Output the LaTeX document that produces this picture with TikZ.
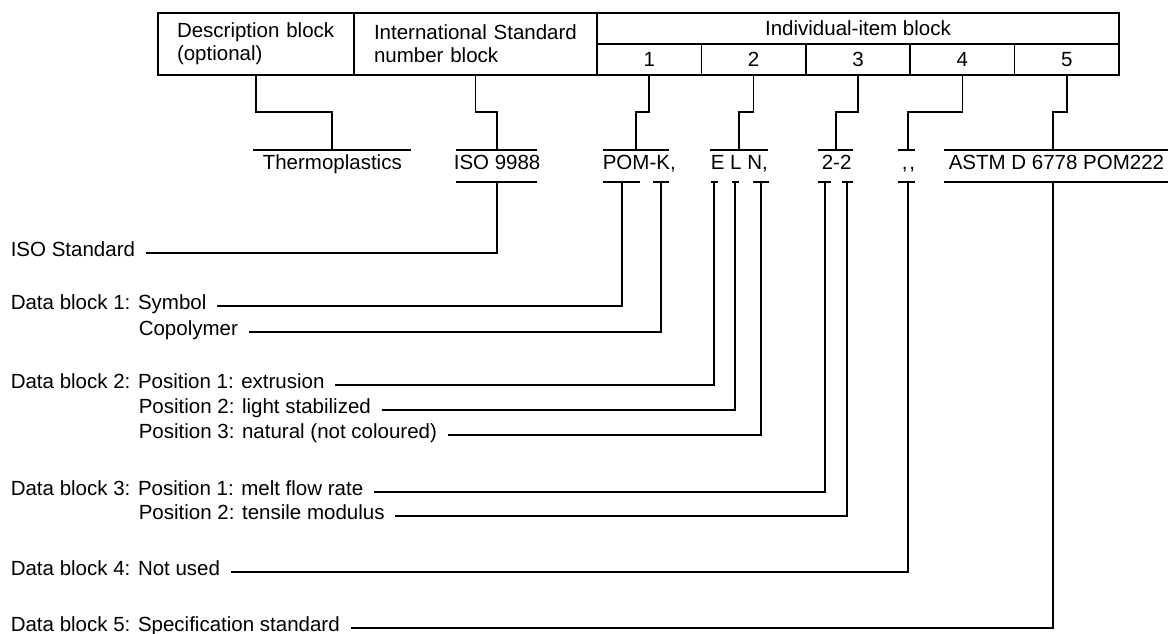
\documentclass[tikz,border=0pt]{standalone}
\usepackage{fontspec}
\setmainfont{Liberation Sans}
\usepackage{tikz}
\usetikzlibrary{calc,positioning}
\tikzset{
cell/.style={draw, outer sep=0pt, inner sep=0pt, minimum height=31pt}, % boxes of the designation
code/.style={inner sep=0pt, text height=0.72em, text depth=0pt, anchor=west}, % parts of the designation
lbl/.style={code}, % explanations on the left
}

\begin{document}
\begin{tikzpicture}[x=1pt,y=-1pt,line width=1.6pt,
   every node/.style={font=\fontsize{20.5}{23}\selectfont}]
   \useasboundingbox (0,0) rectangle (1171,634);
   % blocks
   \node[cell, minimum width=196pt, minimum height=62pt, inner xsep=19pt, text width=158pt, align=left] (desc) at (256,44) {Description block\\(optional)};
   \node[cell, minimum width=243pt, minimum height=62pt, inner xsep=20pt, text width=203pt, align=left] (isn) at (475.5,44) {International Standard\\number block};
   \node[cell, minimum width=522pt] (ind) at (858,28.5) {Individual-item block};
   \node[cell, minimum width=104.4pt, below right=0pt of ind.south west] (c_1) {1};
   \node[cell, minimum width=104.4pt, right=0pt of c_1] (c_2) {2};
   \node[cell, minimum width=104.4pt, right=0pt of c_2] (c_3) {3};
   \node[cell, minimum width=104.4pt, right=0pt of c_3] (c_4) {4};
   \node[cell, minimum width=104.4pt, right=0pt of c_4] (c_5) {5};

   % designation
   \node[code] (thermo) at (262,166) {Thermoplastics};
   \node[code] (iso) at (453,166) {ISO 9988};
   \node[code] (d_1) at (602,166) {POM-K,};
   \node[code] (d_2) at (710,166) {E L N,};
   \node[code] (d_3) at (821,166) {2-2};
   \node[code] (d_4) at (901,166) {,\kern2pt,};
   \node[code] (d_5) at (948,166) {ASTM D 6778 POM222};

   \draw (253,150) -- (411,150);
   \draw (456,150) -- (537,150) (456,182) -- (537,182);
   \draw (603,150) -- (669,150) (603,182) -- (640,182) (653,182) -- (669,182);
   \draw (710,150) -- (768,150) (711,182) -- (718,182) (732,182) -- (739,182) (753,182) -- (769,182);
   \draw (818,150) -- (853,150) (818,182) -- (831,182) (842,182) -- (853,182);
   \draw (898,150) -- (915,150) (898,182) -- (915,182);
   \draw (944,150) -- (1168,150) (944,182) -- (1168,182);

   \coordinate (a_desc) at (332,150);
   \coordinate (a_iso) at (497,150);
   \coordinate (a_1) at (636,150);
   \coordinate (a_2) at (739,150);
   \coordinate (a_3) at (836,150);
   \coordinate (a_4) at (908,150);
   \coordinate (a_5) at (1053,150);

   \draw (desc.south) -- ++(0,37) -| (a_desc);
   \draw (isn.south) -- ++(0,37) -| (a_iso);
   \draw (c_1.south) -- ++(0,37) -| (a_1);
   \draw (c_2.south) -- ++(0,37) -| (a_2);
   \draw (c_3.south) -- ++(0,37) -| (a_3);
   \draw (c_4.south) -- ++(0,37) -| (a_4);
   \draw (c_5.south) -- ++(0,37) -| (a_5);

   % explanations
   \node[lbl] (l_iso) at (10,253) {ISO Standard};
   \node[lbl] (l_sym) at (10,306) {Data block 1: Symbol};
   \node[lbl] (l_cop) at (138,332) {Copolymer};
   \node[lbl] (l_ext) at (10,385) {Data block 2: Position 1: extrusion};
   \node[lbl] (l_lig) at (138,410) {Position 2: light stabilized};
   \node[lbl] (l_nat) at (138,435) {Position 3: natural (not coloured)};
   \node[lbl] (l_mfr) at (10,492) {Data block 3: Position 1: melt flow rate};
   \node[lbl] (l_ten) at (138,516) {Position 2: tensile modulus};
   \node[lbl] (l_nu) at (10,572) {Data block 4: Not used};
   \node[lbl] (l_spec) at (10,628) {Data block 5: Specification standard};

   \coordinate (t_iso) at (497,182);
   \coordinate (t_sym) at (622,182);
   \coordinate (t_cop) at (661,182);
   \coordinate (t_ext) at (714,182);
   \coordinate (t_lig) at (735,182);
   \coordinate (t_nat) at (761,182);
   \coordinate (t_mfr) at (825,182);
   \coordinate (t_ten) at (847,182);
   \coordinate (t_nu) at (908,182);
   \coordinate (t_spec) at (1053,182);

   \draw ([xshift=10pt]l_iso.east) -| (t_iso);
   \draw ([xshift=10pt]l_sym.east) -| (t_sym);
   \draw ([xshift=10pt]l_cop.east) -| (t_cop);
   \draw ([xshift=10pt]l_ext.east) -| (t_ext);
   \draw ([xshift=10pt]l_lig.east) -| (t_lig);
   \draw ([xshift=10pt]l_nat.east) -| (t_nat);
   \draw ([xshift=10pt]l_mfr.east) -| (t_mfr);
   \draw ([xshift=10pt]l_ten.east) -| (t_ten);
   \draw ([xshift=10pt]l_nu.east) -| (t_nu);
   \draw ([xshift=10pt]l_spec.east) -| (t_spec);
\end{tikzpicture}
\end{document}
